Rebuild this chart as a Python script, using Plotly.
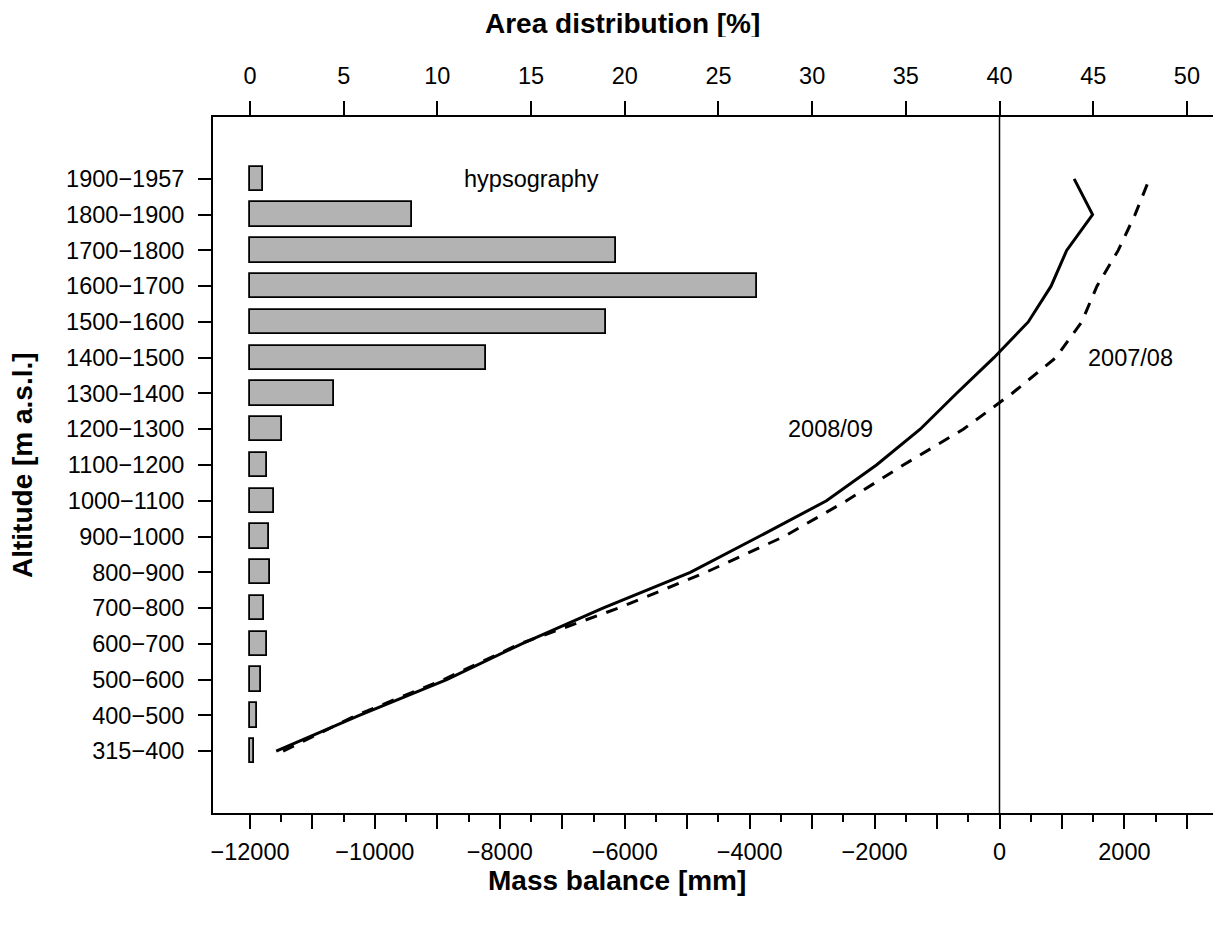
import plotly.graph_objects as go

# ---- data ----
altitude_bands = ["315−400", "400−500", "500−600", "600−700", "700−800", "800−900",
                  "900−1000", "1000−1100", "1100−1200", "1200−1300", "1300−1400",
                  "1400−1500", "1500−1600", "1600−1700", "1700−1800", "1800−1900",
                  "1900−1957"]
area_pct = [0.23, 0.39, 0.61, 0.93, 0.73, 1.05, 1.03, 1.28, 0.89, 1.73, 4.48,
            12.6, 19.0, 27.07, 19.54, 8.67, 0.7]
mb_2008_09 = [-11580, -10250, -8850, -7650, -6350, -4950, -3850, -2770, -1970,
              -1270, -690, -90, 460, 825, 1075, 1490, 1195]
mb_2007_08 = [-11470, -10300, -8900, -7680, -6100, -4700, -3450, -2450, -1540,
              -580, 200, 900, 1316, 1560, 1900, 2170, 2400]
mb_ticks = list(range(-12000, 4000, 1000))
mb_minor = list(range(-11500, 4000, 1000))
pct_ticks = list(range(0, 55, 5))

idx = list(range(len(altitude_bands)))

def lab(v):
    if v % 2000 != 0:
        return ""
    return str(v).replace("-", "−")

FONT = "Liberation Sans, Arial, sans-serif"
FS = 23.5      # tick / text size
TS = 28        # axis title size

# page offset of the plot div (default body margin) is 8 px
L, T, B = 205, 109, 114
W, H = 1213, 919
PW = W - L
PH = H - T - B

def px_x(p):   # page pixel -> paper x
    return (p - 8 - L) / PW

def px_y(p):   # page pixel -> paper y
    return (H - B - (p - 8)) / PH

fig = go.Figure()
fig.add_trace(go.Bar(x=area_pct, y=idx, orientation="h", base=0, width=0.68,
                     xaxis="x2", yaxis="y",
                     marker=dict(color="#b3b3b3", line=dict(color="black", width=1.8)),
                     showlegend=False))
fig.add_trace(go.Scatter(x=mb_2008_09, y=idx, mode="lines",
                         line=dict(color="black", width=3), showlegend=False))
fig.add_trace(go.Scatter(x=mb_2007_08, y=idx, mode="lines",
                         line=dict(color="black", width=3, dash="12px,10px"),
                         showlegend=False))

xr = [-12592, 3546]
fig.update_layout(
    width=W, height=H,
    margin=dict(l=L, r=0, t=T, b=B, pad=0),
    plot_bgcolor="white", paper_bgcolor="white",
    font=dict(family=FONT, size=FS, color="black"),
    xaxis=dict(range=xr, tickmode="array", tickvals=mb_ticks,
               ticktext=[lab(v) for v in mb_ticks],
               ticks="outside", ticklen=14, tickwidth=1.5, tickcolor="black",
               minor=dict(tickmode="array", tickvals=mb_minor, ticks="outside",
                          ticklen=7, tickwidth=1.5, tickcolor="black"),
               showline=True, linecolor="black", linewidth=1.8, mirror=False,
               showgrid=False, zeroline=False, ticklabelstandoff=3),
    xaxis2=dict(range=[(xr[0] + 12000) / 300, (xr[1] + 12000) / 300],
                overlaying="x", side="top", anchor="y",
                tickmode="array", tickvals=pct_ticks,
                ticks="outside", ticklen=14, tickwidth=1.5, tickcolor="black",
                showline=True, linecolor="black", linewidth=1.8,
                showgrid=False, zeroline=False, ticklabelstandoff=8),
    yaxis=dict(range=[-1.73, 17.73], tickmode="array", tickvals=idx,
               ticktext=altitude_bands, ticks="outside", ticklen=13,
               tickwidth=1.5, tickcolor="black",
               showline=True, linecolor="black", linewidth=1.8,
               showgrid=False, zeroline=False, ticklabelstandoff=9),
    bargap=0,
)

# zero mass-balance line
fig.add_shape(type="line", xref="x", yref="paper", x0=0, x1=0, y0=0, y1=1,
              line=dict(color="black", width=1.5))

fig.add_annotation(x=15, y=16, xref="x2", yref="y", text="hypsography",
                   showarrow=False, font=dict(size=FS))
fig.add_annotation(x=-2700, y=9, xref="x", yref="y", text="2008/09",
                   showarrow=False, font=dict(size=FS))
fig.add_annotation(x=2100, y=11, xref="x", yref="y", text="2007/08",
                   showarrow=False, font=dict(size=FS))

fig.add_annotation(x=px_x(622), y=px_y(23), xref="paper", yref="paper",
                   xanchor="center", yanchor="middle", height=28,
                   text="<b>Area distribution [%]</b>", showarrow=False,
                   font=dict(size=TS))
fig.add_annotation(x=px_x(617), y=px_y(880), xref="paper", yref="paper",
                   xanchor="center", yanchor="middle",
                   text="<b>Mass balance [mm]</b>", showarrow=False,
                   font=dict(size=TS))
fig.add_annotation(x=px_x(22), y=px_y(465), xref="paper", yref="paper",
                   xanchor="center", yanchor="middle",
                   text="<b>Altitude [m a.s.l.]</b>", showarrow=False,
                   textangle=-90, font=dict(size=TS))

fig.write_html("out.html")
